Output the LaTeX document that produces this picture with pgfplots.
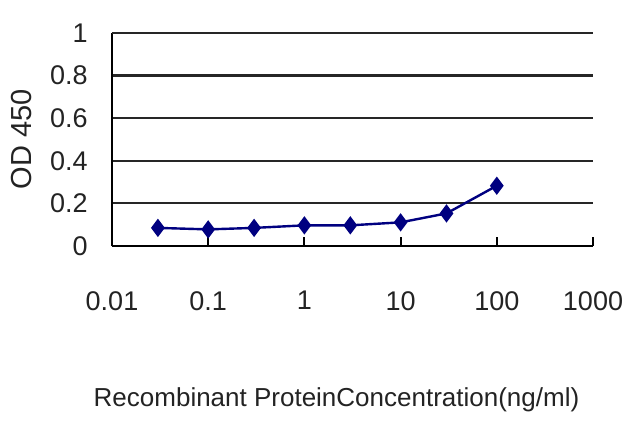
\documentclass[border=0pt]{standalone}
\usepackage{pgfplots}
\pgfplotsset{compat=1.18}
\usepackage{fontspec}
\setmainfont{Liberation Sans}
\definecolor{navyline}{RGB}{0,0,128}
\definecolor{txt}{RGB}{35,35,35}

\begin{document}
\begin{tikzpicture}
\useasboundingbox (-56pt,-90.5pt) rectangle (264pt,123pt);
\begin{axis}[
  at={(0,0)}, anchor=south west,
  scale only axis,
  width=240.5pt, height=106.5pt,
  xmode=log,
  xmin=0.01, xmax=1000,
  ymin=0, ymax=1,
  enlargelimits=false,
  clip=false,
  axis x line*=bottom,
  axis y line*=left,
  axis line style={-, black, line width=1.1pt},
  xtick={0.01,0.1,1,10,100,1000},
  xticklabels={0.01,0.1,1,10,100,1000},
  xminorticks=false,
  ytick={0,0.2,0.4,0.6,0.8},
  yticklabels={0,0.2,0.4,0.6,0.8},
  extra y ticks={1},
  extra y tick labels={1},
  extra y tick style={grid style={gray!70, line width=1.1pt}},
  ymajorgrids=true,
  major grid style={black!85, line width=1.1pt},
  tick align=inside,
  major tick length=4.5pt,
  xtick style={black, line width=1pt},
  ytick style={draw=none},
  /pgf/number format/assume math mode=true,
  tick label style={font=\fontsize{13.5}{15}\selectfont, text=txt, inner sep=0pt},
  xticklabel style={anchor=north, yshift=-22.5pt},
  yticklabel style={anchor=east, xshift=-12pt},
  xlabel={Recombinant ProteinConcentration(ng/ml)},
  ylabel={OD 450},
  label style={font=\fontsize{13}{15}\selectfont, text=txt},
  xlabel style={at={(axis description cs:0.5,0)}, anchor=center, yshift=-77pt, xshift=-8pt},
  ylabel style={at={(axis description cs:0,0.5)}, anchor=center, font=\fontsize{14.5}{16}\selectfont, yshift=45pt},
]
\addplot[color=navyline, line width=1.2pt, mark=diamond*, mark size=3.6pt,
  mark options={fill=navyline, draw=navyline}] coordinates {
  (0.03, 0.085)
  (0.1, 0.078)
  (0.3, 0.085)
  (1, 0.097)
  (3, 0.097)
  (10, 0.111)
  (30, 0.153)
  (100, 0.283)
};
\end{axis}
\end{tikzpicture}
\end{document}
